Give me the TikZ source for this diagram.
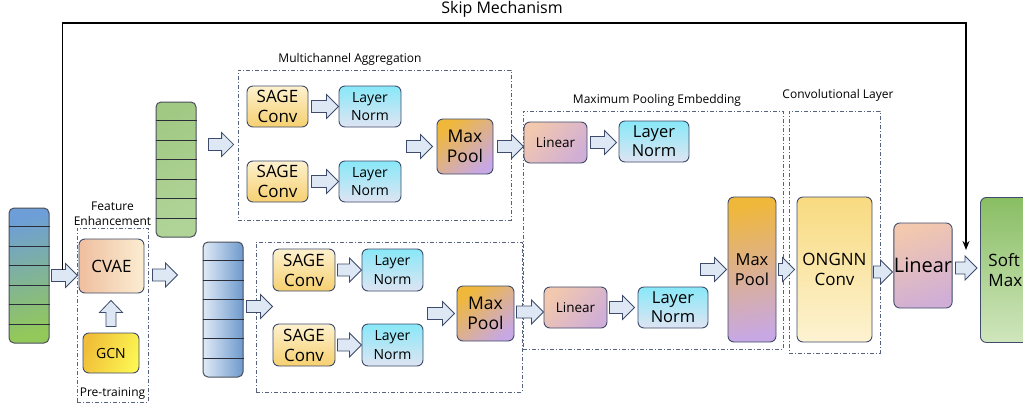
\documentclass[tikz,border=0pt]{standalone}
\usepackage{fontspec}
\setmainfont{Open Sans}
\usetikzlibrary{calc,arrows.meta}
\definecolor{edge}{HTML}{3E4B6B}
\definecolor{grpc}{HTML}{55637F}
\definecolor{arrfill}{HTML}{DDE8F4}
\definecolor{vedge}{HTML}{4A4F5A}
\definecolor{rowc}{HTML}{2B2E38}
\definecolor{inA}{HTML}{6D9ED8}
\definecolor{inM}{HTML}{6C9FD2}
\definecolor{inB}{HTML}{93C85A}
\definecolor{grA}{HTML}{A2C984}
\definecolor{grB}{HTML}{B0D498}
\definecolor{blA}{HTML}{E0EAF6}
\definecolor{blB}{HTML}{6E9ACD}
\definecolor{cvA}{HTML}{EFBE9F}
\definecolor{cvB}{HTML}{FBEDD2}
\definecolor{gcA}{HTML}{F0BE38}
\definecolor{gcB}{HTML}{FCF552}
\definecolor{sgA}{HTML}{FDF1CE}
\definecolor{sgB}{HTML}{F6D070}
\definecolor{lnA}{HTML}{88E8F8}
\definecolor{lnB}{HTML}{DFE4F2}
\definecolor{mpA}{HTML}{F0B83A}
\definecolor{mpM}{HTML}{D8AA88}
\definecolor{mpB}{HTML}{C8A8E2}
\definecolor{liA}{HTML}{F2C8AE}
\definecolor{liM}{HTML}{F6E2D4}
\definecolor{liB}{HTML}{D0AED6}
\definecolor{onA}{HTML}{F8DA80}
\definecolor{onB}{HTML}{FDF3D2}
\definecolor{smA}{HTML}{89BE64}
\definecolor{smB}{HTML}{D0E6BD}
\tikzset{
  box/.style={draw=edge, line width=0.9pt, rounded corners=6pt, inner sep=0pt, align=center},
  vec/.style={draw=vedge, line width=1pt, rounded corners=5pt, inner sep=0pt, minimum width=40pt, minimum height=135pt},
  rowline/.style={draw=rowc, line width=0.9pt},
  grp/.style={draw=grpc, line width=0.8pt, dash pattern=on 4pt off 2pt on 1pt off 2pt, inner sep=0pt},
  barrowst/.style={draw=edge, fill=arrfill, line width=0.8pt, line join=miter},
  lbl/.style={font=\fontsize{12}{15}\selectfont, inner sep=1pt, align=center},
  skipline/.style={draw=black, line width=1.8pt, -{Stealth[length=9pt,width=7pt]}},
  sage/.style={box, top color=sgA, bottom color=sgB, minimum width=61pt, minimum height=41pt, font=\fontsize{17}{20}\selectfont},
  lnsmall/.style={box, top color=lnA, bottom color=lnB, minimum width=62pt, minimum height=41pt, font=\fontsize{14}{18.5}\selectfont},
  lnbig/.style={box, top color=lnA, bottom color=lnB, minimum width=70pt, minimum height=41pt, font=\fontsize{16.5}{19}\selectfont},
  mpool/.style={box, top color=mpA, middle color=mpM, bottom color=mpB, shading angle=40, font=\fontsize{17.5}{20}\selectfont},
  lin/.style={box, top color=liA, middle color=liM, bottom color=liB, shading angle=50, minimum width=63pt, minimum height=41pt, font=\fontsize{13.5}{16}\selectfont}
}
\newcommand\harrow[2]{\draw[barrowst] let \p1=#1, \p2=#2 in
  (\x1,\y1-6pt) -- (\x2-12pt,\y1-6pt) -- (\x2-12pt,\y1-12pt) -- (\x2,\y1) -- (\x2-12pt,\y1+12pt) -- (\x2-12pt,\y1+6pt) -- (\x1,\y1+6pt) -- cycle;}
\newcommand\varrow[2]{\draw[barrowst] let \p1=#1, \p2=#2 in
  (\x1-5pt,\y1) -- (\x1-5pt,\y2-12pt) -- (\x1-11.5pt,\y2-12pt) -- (\x1,\y2) -- (\x1+11.5pt,\y2-12pt) -- (\x1+5pt,\y2-12pt) -- (\x1+5pt,\y1) -- cycle;}
\begin{document}
\begin{tikzpicture}[x=1pt,y=-1pt]
\useasboundingbox (0,0) rectangle (1023,408);
\clip (0,0) rectangle (1023,408);
\fill[white] (0,0) rectangle (1023,408);

% group boxes
\node[grp, minimum width=71pt, minimum height=174pt] (fe) at (112.5,315) {};
\node[grp, minimum width=273pt, minimum height=150pt] (ma1) at (374.5,145) {};
\node[grp, minimum width=266pt, minimum height=150pt] (ma2) at (389,317) {};
\node[grp, minimum width=260pt, minimum height=238pt] (mpe) at (653,230) {};
\node[grp, minimum width=91pt, minimum height=242pt] (cl) at (834.5,232) {};

% group labels
\node[lbl, anchor=south] (felbl) at ([yshift=1pt]fe.north) {Feature\\Enhancement};
\node[lbl, anchor=south] (ptlbl) at ([yshift=2pt]fe.south) {Pre-training};
\node[lbl] (malbl) at (350,59) {Multichannel Aggregation};
\node[lbl] (mpelbl) at (657,100) {Maximum Pooling Embedding};
\node[lbl] (cllbl) at (838,95) {Convolutional Layer};
\node[font=\fontsize{16}{18}\selectfont, inner sep=1pt] (skiplbl) at (502,9) {Skip Mechanism};

% vectors
\node[vec, top color=inA, middle color=inM, bottom color=inB, shading angle=15] (vin) at (29,275.5) {};
\node[vec, top color=grA, bottom color=grB, shading angle=30] (vgreen) at (176,169.5) {};
\node[vec, left color=blA, right color=blB] (vblue) at (223,309.5) {};
\foreach \v in {vin,vgreen,vblue}
  \foreach \i in {1,...,6}
    \draw[rowline] ($(\v.north west)!\i/7!(\v.south west)$) -- ($(\v.north east)!\i/7!(\v.south east)$);

% feature enhancement
\node[box, left color=cvA, right color=cvB, minimum width=65pt, minimum height=54pt, font=\fontsize{17}{20}\selectfont] (cvae) at (111.5,266) {CVAE};
\node[box, left color=gcA, right color=gcB, shading angle=70, minimum width=56pt, minimum height=40pt, font=\fontsize{14}{16}\selectfont] (gcn) at (111,353) {GCN};

% multichannel aggregation (top)
\node[sage] (sage1) at (277.5,106.5) {SAGE\\Conv};
\node[lnsmall] (ln1) at (370,106.5) {Layer\\Norm};
\node[sage] (sage2) at (277.5,181.5) {SAGE\\Conv};
\node[lnsmall] (ln2) at (370,181.5) {Layer\\Norm};
\node[mpool, minimum width=56pt, minimum height=55pt] (mp1) at (465,146.5) {Max\\Pool};

% multichannel aggregation (bottom)
\node[sage, minimum width=62pt, minimum height=42pt] (sage3) at (304,270) {SAGE\\Conv};
\node[lnsmall, minimum width=61pt, minimum height=42pt] (ln3) at (392.5,270) {Layer\\Norm};
\node[sage, minimum width=62pt, minimum height=42pt] (sage4) at (304,345) {SAGE\\Conv};
\node[lnsmall, minimum width=61pt, minimum height=42pt] (ln4) at (392.5,345) {Layer\\Norm};
\node[mpool, minimum width=57pt, minimum height=55pt] (mp2) at (485.5,313.5) {Max\\Pool};

% maximum pooling embedding
\node[lin] (lin1) at (555.5,142.5) {Linear};
\node[lnbig] (lnA) at (654,141.5) {Layer\\Norm};
\node[lin] (lin2) at (575.5,307.5) {Linear};
\node[lnbig] (lnB) at (673,307.5) {Layer\\Norm};
\node[box, top color=mpA, middle color=mpM, bottom color=mpB, shading angle=10, minimum width=48pt, minimum height=145pt, font=\fontsize{16.5}{20}\selectfont] (mp3) at (752,269.5) {Max\\Pool};

% convolutional layer and output
\node[box, top color=onA, bottom color=onB, minimum width=75pt, minimum height=145pt, font=\fontsize{17}{20}\selectfont] (ongnn) at (834.5,269.5) {ONGNN\\Conv};
\node[box, top color=liA, middle color=liM, bottom color=liB, shading angle=20, minimum width=58pt, minimum height=85pt, font=\fontsize{20}{24}\selectfont] (lin3) at (923,265.5) {Linear};
\node[box, top color=smA, bottom color=smB, anchor=north west, minimum height=145pt, text width=52pt, inner xsep=8pt, align=left, font=\fontsize{17}{20}\selectfont] (soft) at (980,197) {Soft\\Max};

% block arrows
\harrow{([xshift=2pt]vin.east)}{([xshift=-1pt]cvae.west)}
\varrow{([yshift=6pt]gcn.north)}{([yshift=-7pt]cvae.south)}
\harrow{([shift={(8pt,-9pt)}]cvae.east)}{([xshift=-25pt]vblue.west)}
\harrow{([shift={(12pt,25pt)}]vgreen.east)}{([xshift=-4pt]ma1.west)}
\harrow{([xshift=3pt]sage1.east)}{(ln1.west)}
\harrow{([xshift=3pt]sage2.east)}{(ln2.west)}
\harrow{([xshift=5pt]ln1.east |- mp1.west)}{([xshift=-4pt]mp1.west)}
\harrow{([xshift=4pt]mp1.east)}{(lin1.west)}
\harrow{([shift={(3pt,3pt)}]vblue.east)}{(sage3.west)}
\harrow{([xshift=2pt]sage3.east)}{(ln3.west)}
\harrow{([xshift=2pt]sage4.east)}{(ln4.west)}
\harrow{([xshift=4pt]ln3.east |- mp2.west)}{([xshift=-2pt]mp2.west)}
\harrow{([shift={(2pt,1.5pt)}]mp2.east)}{(lin2.west)}
\harrow{([xshift=3pt]lin1.east)}{([xshift=-2pt]lnA.west)}
\harrow{([xshift=2pt]lin2.east)}{([xshift=-3pt]lnB.west)}
\harrow{([xshift=-8pt]lnB.east |- mp3.west)}{([xshift=-1pt]mp3.west)}
\harrow{([xshift=2pt]mp3.east)}{([xshift=-2pt]ongnn.west)}
\harrow{([shift={(1pt,-2.5pt)}]ongnn.east)}{([xshift=-1pt]lin3.west)}
\harrow{([shift={(3pt,-2.5pt)}]lin3.east)}{([xshift=-3pt]soft.west)}

% skip mechanism
\coordinate (skipS) at ([shift={(13pt,6pt)}]vin.east);
\coordinate (skipE) at ([shift={(-14pt,20pt)}]soft.west);
\coordinate (skipTop) at (500,23);
\draw[skipline] (skipS) -- (skipS |- skipTop) -- (skipE |- skipTop) -- (skipE);
\end{tikzpicture}
\end{document}
